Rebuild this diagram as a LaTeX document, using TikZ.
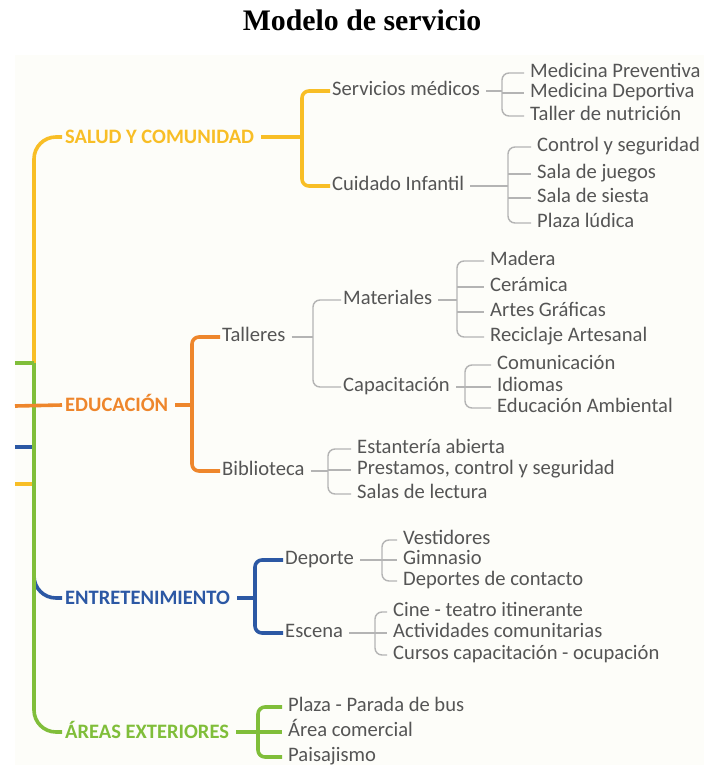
\documentclass[tikz,border=0pt]{standalone}
\usepackage{fontspec}
\setmainfont{Carlito}
\newfontfamily\titlefont{Liberation Serif}
\usepackage{tikz}
\usetikzlibrary{positioning}
\usetikzlibrary{calc}
\definecolor{myyellow}{RGB}{248,190,38}
\definecolor{myorange}{RGB}{238,134,44}
\definecolor{myblue}{RGB}{44,88,164}
\definecolor{mygreen}{RGB}{128,190,58}
\definecolor{mygray}{RGB}{85,85,85}
\definecolor{mylinegray}{RGB}{180,180,180}
\definecolor{mybg}{RGB}{253,253,249}
\newcommand\mybrace[5][grayline]{%
  \draw[#1] ([xshift=4pt]#2.east) -- (#3,0 |- #2.east);
  \draw[#1,rounded corners=7pt] (#4.west) -| (#3,0 |- #2.east) |- (#5.west);
}
\newcommand\mytick[3][grayline]{%
  \draw[#1] (#2,0 |- #3.west) -- (#3.west);
}

\begin{document}
\begin{tikzpicture}[
x=1pt, y=-1pt,
item/.style={
  anchor=west,
  inner xsep=2pt, inner ysep=0pt,
  text height=10pt, text depth=1.4pt,
  text=mygray,
  font=\fontsize{20.6}{22}\selectfont},
leaf/.style={item, inner xsep=6pt},
cat/.style={
  anchor=west,
  inner xsep=3pt, inner ysep=0pt,
  text height=13.2pt, text depth=0pt,
  font=\bfseries\fontsize{20.5}{22}\selectfont},
grayline/.style={draw=mylinegray, line width=1.4pt},
catline/.style={draw=#1, line width=3.6pt}
]
\useasboundingbox (0,0) rectangle (704,765);
\fill[mybg] (15,55) rectangle (704,765);
\node[anchor=base, font=\titlefont\bfseries\fontsize{29.8}{34}\selectfont] (title) at (362,31) {Modelo de servicio};

\node[cat, text=myyellow] (salud) at (62,137) {SALUD Y COMUNIDAD};
\node[cat, text=myorange] (edu) at (62,405) {EDUCACIÓN};
\node[cat, text=myblue] (ent) at (62,598) {ENTRETENIMIENTO};
\node[cat, text=mygreen] (ext) at (62,732) {ÁREAS EXTERIORES};

\node[item] (serv) at (330,91) {Servicios médicos};
\node[item] (cuid) at (330,186) {Cuidado Infantil};
\node[item] (tall) at (220,337) {Talleres};
\node[item] (bibl) at (220,471) {Biblioteca};
\node[item] (mat) at (341,300) {Materiales};
\node[item] (capac) at (341,387) {Capacitación};
\node[item] (dep) at (283,560) {Deporte};
\node[item] (esc) at (283,633) {Escena};

\node[leaf] (mprev) at (524,73) {Medicina Preventiva};
\node[leaf] (mdep) at (524,93) {Medicina Deportiva};
\node[leaf] (tnut) at (524,116) {Taller de nutrición};
\node[leaf] (ctrl) at (531,147) {Control y seguridad};
\node[leaf] (sjue) at (531,174) {Sala de juegos};
\node[leaf] (ssie) at (531,198) {Sala de siesta};
\node[leaf] (plud) at (531,223) {Plaza lúdica};
\node[leaf] (mad) at (484,261) {Madera};
\node[leaf] (cer) at (484,287) {Cerámica};
\node[leaf] (art) at (484,312) {Artes Gráficas};
\node[leaf] (rec) at (484,337) {Reciclaje Artesanal};
\node[leaf] (com) at (491,365) {Comunicación};
\node[leaf] (idi) at (491,387) {Idiomas};
\node[leaf] (eamb) at (491,408) {Educación Ambiental};
\node[leaf] (est) at (351,449) {Estantería abierta};
\node[leaf] (pre) at (351,470) {Prestamos, control y seguridad};
\node[leaf] (sal) at (351,494) {Salas de lectura};
\node[leaf] (ves) at (397,540) {Vestidores};
\node[leaf] (gim) at (397,560) {Gimnasio};
\node[leaf] (dco) at (397,581) {Deportes de contacto};
\node[leaf] (cin) at (387,612) {Cine - teatro itinerante};
\node[leaf] (act) at (387,633) {Actividades comunitarias};
\node[leaf] (cur) at (387,655) {Cursos capacitación - ocupación};
\node[leaf] (pla) at (282,707) {Plaza - Parada de bus};
\node[leaf] (aco) at (282,732) {Área comercial};
\node[leaf] (pai) at (282,757) {Paisajismo};

\coordinate (gstub) at (15,363);
\coordinate (ostub) at (15,406);
\coordinate (bstub) at (15,447);
\coordinate (ystub) at (15,484);
\draw[catline=myyellow] (ystub) -- (34,484);
\draw[catline=myyellow, rounded corners=22pt] (34,484) -- (34,137) -- (salud.west);
\draw[catline=myblue] (bstub) -- (34,447);
\draw[catline=myblue, rounded corners=22pt] (34,447) -- (34,598) -- (ent.west);
\draw[catline=mygreen] (gstub) -- (34,363);
\draw[catline=mygreen, rounded corners=22pt] (34,363) -- (34,732) -- (ext.west);
\draw[catline=myorange] (ostub) -- (edu.west);

\mybrace[catline=myyellow, rounded corners=12pt]{salud}{302}{serv}{cuid}
\mybrace[catline=myorange, rounded corners=12pt]{edu}{192}{tall}{bibl}
\mybrace[catline=myblue, rounded corners=12pt]{ent}{255}{dep}{esc}
\mybrace[catline=mygreen, rounded corners=12pt]{ext}{258}{pla}{pai}
\mytick[catline=mygreen]{258}{aco}

\mybrace{serv}{502}{mprev}{tnut}
\mytick{502}{mdep}
\mybrace{cuid}{508}{ctrl}{plud}
\mytick{508}{sjue}
\mytick{508}{ssie}
\mybrace{tall}{313}{mat}{capac}
\mybrace{mat}{457}{mad}{rec}
\mytick{457}{cer}
\mytick{457}{art}
\mybrace{capac}{465}{com}{eamb}
\mytick{465}{idi}
\mybrace{bibl}{328}{est}{sal}
\mytick{328}{pre}
\mybrace{dep}{382}{ves}{dco}
\mytick{382}{gim}
\mybrace{esc}{375}{cin}{cur}
\mytick{375}{act}
\end{tikzpicture}
\end{document}
